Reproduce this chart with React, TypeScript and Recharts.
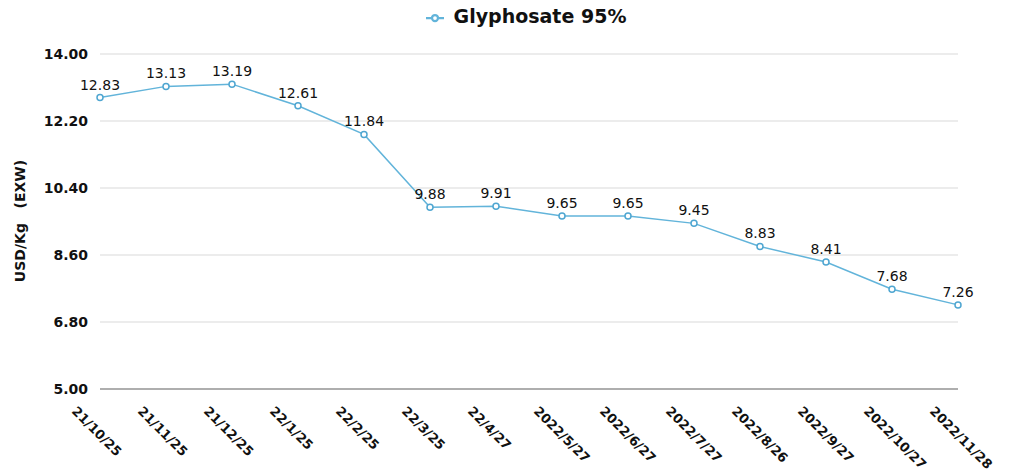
import { LineChart, Line, XAxis, YAxis, CartesianGrid, Legend, LabelList } from 'recharts';

// dates of each price quote
const dates = [
  '21/10/25', '21/11/25', '21/12/25', '22/1/25', '22/2/25', '22/3/25', '22/4/27',
  '2022/5/27', '2022/6/27', '2022/7/27', '2022/8/26', '2022/9/27', '2022/10/27', '2022/11/28',
];

// Glyphosate 95% price, USD/Kg (EXW)
const glyphosate = [12.83, 13.13, 13.19, 12.61, 11.84, 9.88, 9.91, 9.65, 9.65, 9.45, 8.83, 8.41, 7.68, 7.26];

const yTicks = [5, 6.8, 8.6, 10.4, 12.2, 14];

const data = dates.map((d, i) => ({ date: d, price: glyphosate[i] }));

const FONT = '"DejaVu Sans", Arial, sans-serif';
const BLUE = '#62b4da';

// slanted date labels under the axis
const DateTick = ({ x, y, payload }: any) => (
  <g transform={`translate(${x - 29},${y + 15})`}>
    <text
      transform="rotate(45)"
      textAnchor="start"
      fontFamily={FONT}
      fontSize={13}
      fontWeight="bold"
      fill="#111"
    >
      {payload.value}
    </text>
  </g>
);

const YTitle = () => (
  <text
    transform="translate(25,221) rotate(-90)"
    textAnchor="middle"
    fontFamily={FONT}
    fontSize={14}
    fontWeight="bold"
    fill="#111"
  >
    {'USD/Kg\u00a0\u00a0\u00a0(EXW)'}
  </text>
);

export default function App() {
  return (
    <div style={{ position: 'absolute', left: 0, top: 0, background: '#fff' }}>
      <LineChart
        width={1032}
        height={473}
        data={data}
        margin={{ top: 32, right: 74, bottom: 0, left: 0 }}
      >
        <CartesianGrid vertical={false} stroke="#e6e6e6" strokeWidth={1.5} />
        <XAxis
          dataKey="date"
          interval={0}
          axisLine={{ stroke: '#9a9a9a', strokeWidth: 1.5 }}
          tickLine={false}
          tick={<DateTick />}
          height={84}
        />
        <YAxis
          width={100}
          domain={[5, 14]}
          ticks={yTicks}
          axisLine={false}
          tickLine={false}
          tickMargin={6}
          tickFormatter={(v: number) => v.toFixed(2)}
          tick={{ fontFamily: FONT, fontSize: 14, fontWeight: 'bold', fill: '#111' }}
          label={<YTitle />}
        />
        <Legend
          verticalAlign="top"
          align="center"
          iconSize={18}
          wrapperStyle={{ top: 5, left: 15, width: 1032, fontFamily: FONT, fontSize: 19, fontWeight: 'bold' }}
          formatter={(v: string) => <span style={{ color: '#111', marginLeft: 6 }}>{v}</span>}
        />
        <Line
          name="Glyphosate 95%"
          dataKey="price"
          stroke={BLUE}
          strokeWidth={1.5}
          dot={{ r: 3, fill: '#fff', stroke: '#4fa6d1', strokeWidth: 1.5 }}
          legendType="line"
          isAnimationActive={false}
        >
          <LabelList
            dataKey="price"
            position="top"
            offset={8}
            formatter={(v: any) => Number(v).toFixed(2)}
            style={{ fontFamily: FONT, fontSize: 14, fill: '#111' }}
          />
        </Line>
      </LineChart>
    </div>
  );
}
